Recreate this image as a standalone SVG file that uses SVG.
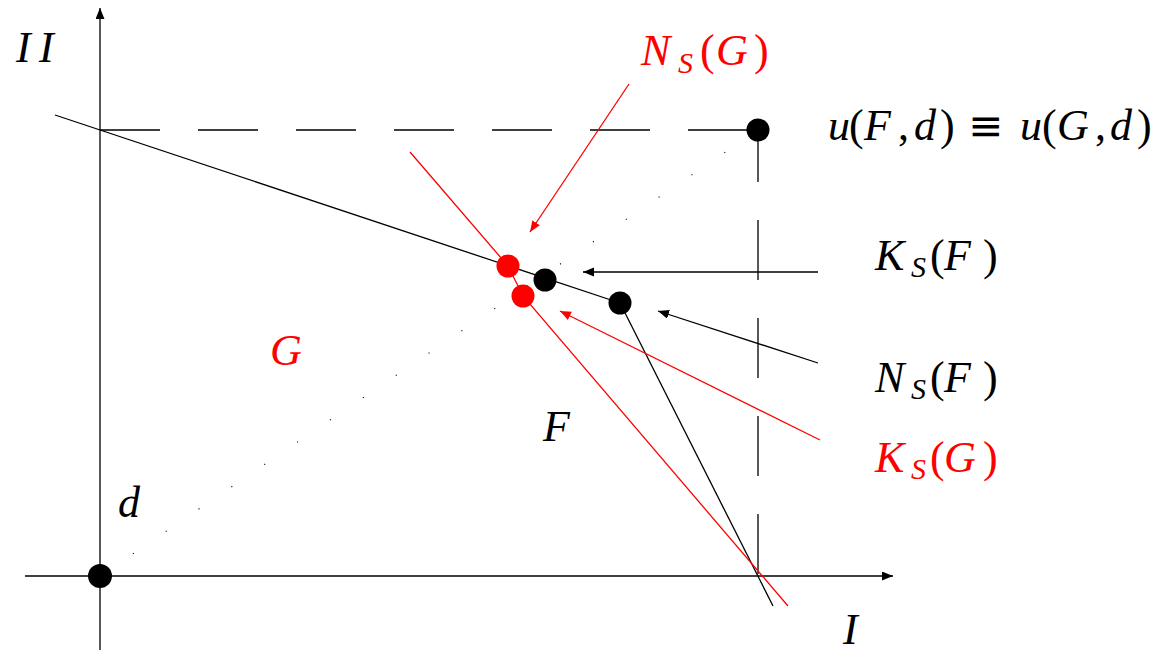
<svg xmlns="http://www.w3.org/2000/svg" width="1160" height="656" viewBox="0 0 1160 656">
<style>
.ln{stroke:#000;stroke-width:1.3;fill:none}
.rl{stroke:#ff0000;stroke-width:1.3;fill:none}
.t{font-family:"Liberation Serif","DejaVu Serif",serif;font-size:44px;fill:#000}
.r{fill:#ff0000}
.i{font-style:italic}
.s{font-size:30px}
.eq{font-family:"DejaVu Sans",sans-serif;font-size:42px}
</style>
<defs>
<marker id="ak" markerUnits="userSpaceOnUse" markerWidth="12" markerHeight="10" refX="11" refY="4.5" orient="auto"><path d="M0,0 L11,4.5 L0,9 Z" fill="#000"/></marker>
<marker id="ar" markerUnits="userSpaceOnUse" markerWidth="12" markerHeight="10" refX="11" refY="4.5" orient="auto"><path d="M0,0 L11,4.5 L0,9 Z" fill="#ff0000"/></marker>
</defs>
<g id="connectors">
<line class="ln" x1="100" y1="650" x2="100" y2="8" marker-end="url(#ak)"/>
<line class="ln" x1="25" y1="576" x2="893" y2="576" marker-end="url(#ak)"/>
<line class="ln" x1="100" y1="130" x2="758" y2="130" stroke-dasharray="60 38"/>
<line class="ln" x1="758" y1="122" x2="758" y2="576" stroke-dasharray="60 38"/>
<line x1="100" y1="576" x2="758" y2="130" stroke="#000" stroke-width="1.2" stroke-dasharray="1 38.7"/>
<line class="ln" x1="55" y1="115" x2="620" y2="303"/>
<line class="ln" x1="620" y1="303" x2="773" y2="606"/>
<polyline class="rl" points="410,152 508,266 523,296 788,606"/>
<line class="ln" x1="818" y1="272" x2="583" y2="272" marker-end="url(#ak)"/>
<line class="ln" x1="818" y1="363" x2="658" y2="311" marker-end="url(#ak)"/>
<line class="rl" x1="820" y1="440" x2="560" y2="311" marker-end="url(#ar)"/>
<line class="rl" x1="629" y1="84" x2="530" y2="232" marker-end="url(#ar)"/>
</g>
<g id="node-d"><circle cx="100" cy="576" r="12" fill="#000"/><text class="t i" x="118" y="517">d</text></g>
<g id="node-u"><circle cx="758" cy="130" r="11.5" fill="#000"/></g>
<g id="node-ng"><circle cx="508" cy="266" r="11.5" fill="#ff0000"/></g>
<g id="node-kg"><circle cx="523" cy="296" r="11.5" fill="#ff0000"/></g>
<g id="node-kf"><circle cx="545" cy="280" r="11.5" fill="#000"/></g>
<g id="node-nf"><circle cx="620" cy="303" r="11.5" fill="#000"/></g>
<g id="labels">
<text class="t i" x="16" y="62">I<tspan x="39">I</tspan></text>
<text class="t i" x="843" y="644">I</text>
<text class="t i r" x="270" y="365">G</text>
<text class="t i" x="543" y="441">F</text>
<text class="t r" y="65"><tspan class="i" x="641">N</tspan><tspan class="i s" x="678" y="73">S</tspan><tspan x="700" y="65">(</tspan><tspan class="i" x="716">G</tspan><tspan x="754">)</tspan></text>
<text class="t" y="140"><tspan class="i" x="828">u</tspan><tspan x="849">(</tspan><tspan class="i" x="864">F</tspan><tspan x="898">,</tspan><tspan class="i" x="914">d</tspan><tspan x="940">)</tspan><tspan class="eq" x="968">≡</tspan><tspan class="i" x="1020">u</tspan><tspan x="1042">(</tspan><tspan class="i" x="1057">G</tspan><tspan x="1095">,</tspan><tspan class="i" x="1110">d</tspan><tspan x="1137">)</tspan></text>
<text class="t" y="270"><tspan class="i" x="875">K</tspan><tspan class="i s" x="911" y="277">S</tspan><tspan x="930" y="270">(</tspan><tspan class="i" x="944">F</tspan><tspan x="983">)</tspan></text>
<text class="t" y="392"><tspan class="i" x="875">N</tspan><tspan class="i s" x="911" y="399">S</tspan><tspan x="930" y="392">(</tspan><tspan class="i" x="944">F</tspan><tspan x="983">)</tspan></text>
<text class="t r" y="472"><tspan class="i" x="875">K</tspan><tspan class="i s" x="911" y="479">S</tspan><tspan x="930" y="472">(</tspan><tspan class="i" x="944">G</tspan><tspan x="983">)</tspan></text>
</g>
</svg>
